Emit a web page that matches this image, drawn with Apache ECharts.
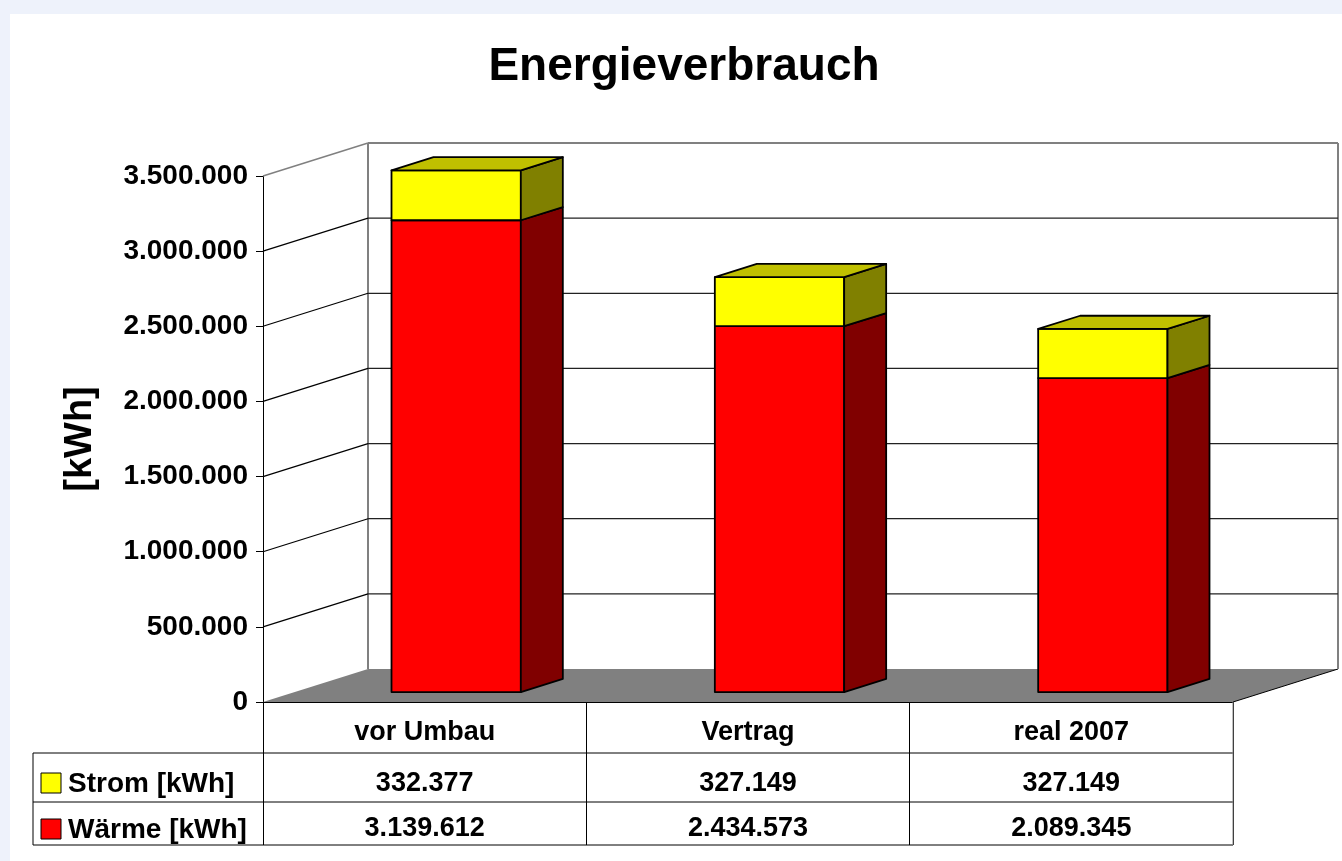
<!DOCTYPE html>
<html>
<head>
<meta charset="utf-8">
<script src="https://cdn.jsdelivr.net/npm/echarts@6/dist/echarts.min.js"></script>
<style>
  html, body { margin: 0; padding: 0; background: #eef2fb; }
  .panel { position: absolute; left: 10px; top: 14px; right: 0; bottom: 0; background: #fff; }
  #chart { position: absolute; left: 0; top: 0; width: 1342px; height: 861px; }
</style>
</head>
<body>
<div class="panel"></div>
<div id="chart"></div>
<script>
// data
var categories = ['vor Umbau', 'Vertrag', 'real 2007']
var strom = [332377, 327149, 327149]
var waerme = [3139612, 2434573, 2089345]
var yTicks = [0, 500000, 1000000, 1500000, 2000000, 2500000, 3000000, 3500000]
var seriesNames = ['Strom [kWh]', 'Wärme [kWh]']

// depth of the 3d box
var DX = 105
var DY = -33
var FONT = 'bold 27px "Liberation Sans", Arial, sans-serif'
var KEY_FONT = 'bold 28px "Liberation Sans", Arial, sans-serif'

function fmt (n) {
  return String(n).replace(/\B(?=(\d{3})+(?!\d))/g, '.')
}

var myChart = echarts.init(document.getElementById('chart'))

// floor, side wall and back wall
function renderWalls (params, api) {
  var cs = params.coordSys
  var v = api.value(1)
  var y = api.coord([0, v])[1]
  var left = cs.x
  var right = cs.x + cs.width
  var children = []
  if (v === 0) {
    var top = api.coord([0, yTicks[yTicks.length - 1]])[1]
    children.push({
      type: 'polygon',
      shape: { points: [[left, y], [left + DX, y + DY], [right + DX, y + DY], [right, y]] },
      style: { fill: '#808080', stroke: null }
    })
    children.push({
      type: 'line',
      shape: { x1: right, y1: y, x2: right + DX, y2: y + DY },
      style: { stroke: '#000', lineWidth: 1 }
    })
    children.push({
      type: 'line',
      shape: { x1: left + DX, y1: y + DY, x2: left + DX, y2: top + DY },
      style: { stroke: '#808080', lineWidth: 2 }
    })
    children.push({
      type: 'line',
      shape: { x1: right + DX, y1: y + DY, x2: right + DX, y2: top + DY },
      style: { stroke: '#808080', lineWidth: 2 }
    })
  } else {
    var isTop = v === yTicks[yTicks.length - 1]
    children.push({
      type: 'line',
      shape: { x1: left, y1: y, x2: left + DX, y2: y + DY },
      style: { stroke: isTop ? '#808080' : '#000', lineWidth: isTop ? 1.5 : 1.2 }
    })
    children.push({
      type: 'line',
      shape: { x1: left + DX, y1: y + DY, x2: right + DX, y2: y + DY },
      style: { stroke: isTop ? '#808080' : '#222', lineWidth: isTop ? 2 : 1.2 }
    })
  }
  return { type: 'group', children: children }
}

// stacked 3d bars
function renderBars (params, api) {
  var i = api.value(0)
  var w = api.value(1)
  var s = api.value(2)
  var base = api.coord([i, 0])
  var pw = api.coord([i, w])
  var ps = api.coord([i, w + s])
  var bw = api.size([1, 0])[0] * 0.4
  var fx = DX * 0.3
  var fy = DY * 0.3
  var dx = DX * 0.4
  var dy = DY * 0.4
  var x0 = base[0] - bw / 2 + fx
  var x1 = x0 + bw
  var y0 = base[1] + fy
  var y1 = pw[1] + fy
  var y2 = ps[1] + fy
  var st = { stroke: '#000', lineWidth: 1.8, lineJoin: 'round' }
  function poly (pts, fill) {
    return { type: 'polygon', shape: { points: pts }, style: Object.assign({ fill: fill }, st) }
  }
  return {
    type: 'group',
    children: [
      poly([[x0, y0], [x1, y0], [x1, y1], [x0, y1]], '#ff0000'),
      poly([[x1, y0], [x1 + dx, y0 + dy], [x1 + dx, y1 + dy], [x1, y1]], '#800000'),
      poly([[x0, y1], [x1, y1], [x1, y2], [x0, y2]], '#ffff00'),
      poly([[x1, y1], [x1 + dx, y1 + dy], [x1 + dx, y2 + dy], [x1, y2]], '#808000'),
      poly([[x0, y2], [x0 + dx, y2 + dy], [x1 + dx, y2 + dy], [x1, y2]], '#c0c000')
    ]
  }
}

// data table below the chart
function renderTable (params, api) {
  var cs = params.coordSys
  var i = api.value(0)
  var p = api.coord([i, 0])
  var y0 = p[1]
  var children = [
    { type: 'text', style: { text: fmt(api.value(2)), x: p[0], y: y0 + 82, align: 'center', verticalAlign: 'middle', font: FONT, fill: '#000' } },
    { type: 'text', style: { text: fmt(api.value(1)), x: p[0], y: y0 + 127, align: 'center', verticalAlign: 'middle', font: FONT, fill: '#000' } }
  ]
  if (params.dataIndex === 0) {
    var left = cs.x - 230
    var right = cs.x + cs.width
    var line = function (x1, y1, x2, y2, c) {
      return { type: 'line', shape: { x1: x1, y1: y1, x2: x2, y2: y2 }, style: { stroke: c || '#000', lineWidth: 1 } }
    }
    children.push(line(left, y0 + 51, right, y0 + 51))
    children.push(line(left, y0 + 100, right, y0 + 100))
    children.push(line(left, y0 + 143, right, y0 + 143))
    children.push(line(left, y0 + 51, left, y0 + 143))
    children.push(line(right, y0, right, y0 + 143, '#808080'))
    var keys = [['#ffff00', y0 + 81], ['#ff0000', y0 + 127]]
    keys.forEach(function (k, j) {
      children.push({ type: 'rect', shape: { x: left + 8, y: k[1] - 10, width: 20, height: 20 }, style: { fill: k[0], stroke: '#000', lineWidth: 1 } })
      children.push({ type: 'text', style: { text: seriesNames[j], x: left + 35, y: k[1] + 1, align: 'left', verticalAlign: 'middle', font: KEY_FONT, fill: '#000' } })
    })
  }
  return { type: 'group', children: children }
}

var option = {
  backgroundColor: 'transparent',
  animation: false,
  title: {
    text: 'Energieverbrauch',
    left: 684,
    top: 44,
    padding: 0,
    textAlign: 'center',
    textStyle: { fontFamily: '"Liberation Sans", Arial, sans-serif', fontWeight: 'bold', fontSize: 46, color: '#000' }
  },
  grid: {
    left: 263,
    right: 109,
    top: 176,
    bottom: 159,
    containLabel: false
  },
  xAxis: {
    type: 'category',
    data: categories,
    axisLine: { lineStyle: { color: '#000', width: 1 } },
    axisTick: { show: true, length: 143, alignWithLabel: false, lineStyle: { color: '#000' } },
    axisLabel: {
      margin: 17,
      color: '#000',
      fontFamily: '"Liberation Sans", Arial, sans-serif',
      fontWeight: 'bold',
      fontSize: 27
    }
  },
  yAxis: {
    type: 'value',
    min: 0,
    max: 3500000,
    interval: 500000,
    name: '[kWh]',
    nameLocation: 'middle',
    nameGap: 163,
    nameTextStyle: { fontFamily: '"Liberation Sans", Arial, sans-serif', fontWeight: 'bold', fontSize: 38, color: '#000' },
    axisLine: { show: true, lineStyle: { color: '#000', width: 1 } },
    axisTick: { show: true, length: 7, lineStyle: { color: '#000' } },
    splitLine: { show: false },
    axisLabel: {
      margin: 15,
      color: '#000',
      fontFamily: '"Liberation Sans", Arial, sans-serif',
      fontWeight: 'bold',
      fontSize: 28,
      formatter: function (v) { return fmt(v) }
    }
  },
  series: [
    {
      type: 'custom',
      name: 'walls',
      renderItem: renderWalls,
      encode: { x: 0, y: 1 },
      data: yTicks.map(function (v) { return [0, v] }),
      silent: true,
      z: 1
    },
    {
      type: 'custom',
      name: 'bars',
      renderItem: renderBars,
      encode: { x: 0, y: 1 },
      data: categories.map(function (c, i) { return [i, waerme[i], strom[i]] }),
      z: 2
    },
    {
      type: 'custom',
      name: 'table',
      renderItem: renderTable,
      encode: { x: 0, y: 1 },
      data: categories.map(function (c, i) { return [i, waerme[i], strom[i]] }),
      silent: true,
      z: 3
    }
  ]
}

myChart.setOption(option)
window.onresize = function () {
  myChart.resize()
}
</script>
</body>
</html>
